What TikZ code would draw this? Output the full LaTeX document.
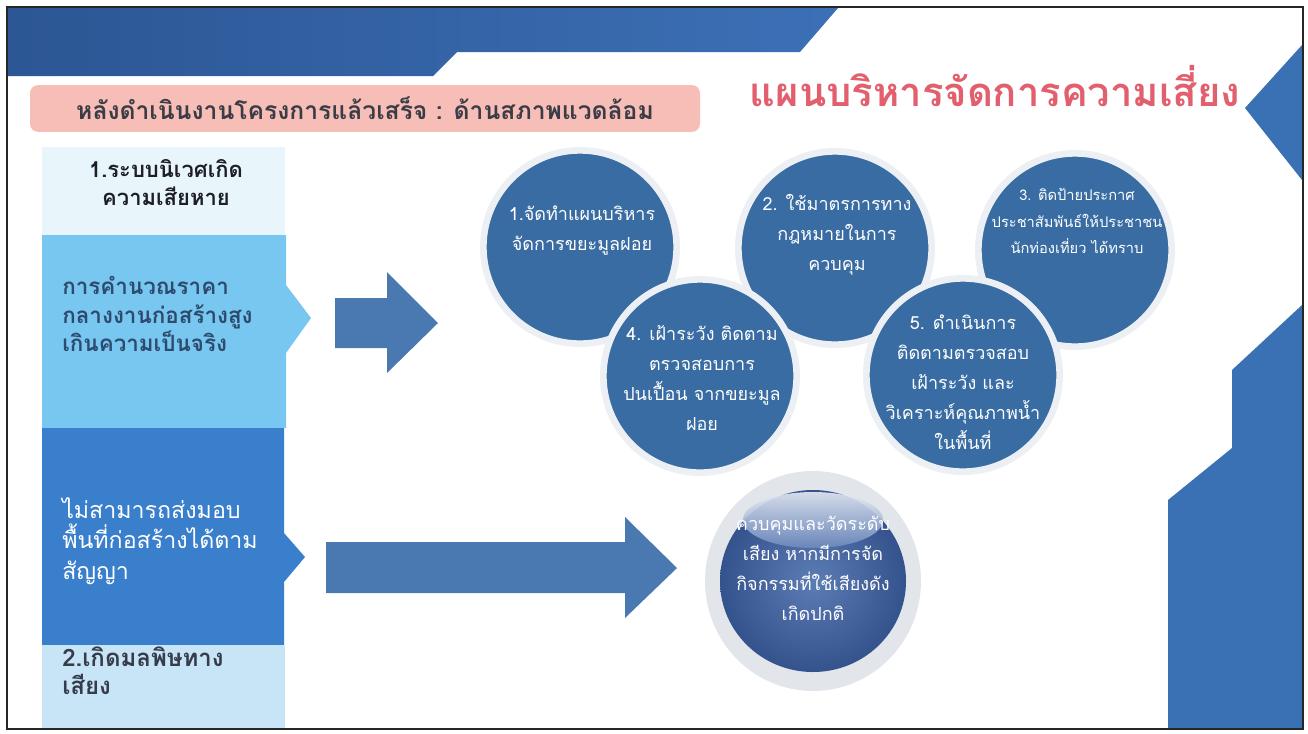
\documentclass[tikz,border=0pt]{standalone}
\usepackage{fontspec}
\newfontfamily\thai[Script=Thai]{Loma}
\usetikzlibrary{shapes.geometric}
\definecolor{bandL}{RGB}{44,86,148}
\definecolor{bandR}{RGB}{60,112,182}
\definecolor{rshape}{RGB}{58,112,180}
\definecolor{pinkbar}{RGB}{246,190,183}
\definecolor{hdrtext}{RGB}{60,60,70}
\definecolor{titlered}{RGB}{226,96,110}
\definecolor{cellA}{RGB}{232,246,252}
\definecolor{cellB}{RGB}{120,199,240}
\definecolor{cellC}{RGB}{58,127,204}
\definecolor{cellD}{RGB}{200,229,247}
\definecolor{txtA}{RGB}{30,30,40}
\definecolor{txtB}{RGB}{45,75,110}
\definecolor{txtD}{RGB}{55,60,75}
\definecolor{arrowblue}{RGB}{74,121,178}
\definecolor{circblue}{RGB}{56,108,162}
\definecolor{halo}{RGB}{236,240,244}
\definecolor{ballout}{RGB}{52,82,140}
\definecolor{ballin}{RGB}{92,124,180}
\definecolor{ring}{RGB}{226,230,235}
\begin{document}
\begin{tikzpicture}[x=0.75pt,y=-0.75pt,
  circ/.style={circle, fill=circblue, draw=halo, line width=5pt, minimum size=145pt, inner sep=0pt},
  ctext/.style={text=white, align=center, inner sep=0pt, font=\thai\fontsize{13.5}{22.5}\selectfont},
  ctextsmall/.style={ctext, font=\thai\fontsize{11}{20}\selectfont},
  celltext/.style={anchor=west, align=left, inner sep=0pt},
  blockarrow/.style={fill=arrowblue}
]
\useasboundingbox (0,0) rectangle (1308,733);
\fill[white] (0,0) rectangle (1308,733);

% top band
\shade[left color=bandL, right color=bandR] (8,8) -- (838,8) -- (800,52) -- (457,52) -- (433,76) -- (8,76) -- cycle;
% right side shapes
\fill[rshape] (1302,45) -- (1245,108) -- (1302,180) -- cycle;
\fill[rshape] (1302,305) -- (1232,370) -- (1232,448) -- (1168,500) -- (1168,729) -- (1302,729) -- cycle;

% header bar and title
\node[fill=pinkbar, rounded corners=6pt, minimum width=502.5pt, minimum height=35pt, inner sep=0pt,
      text=hdrtext, font=\thai\bfseries\fontsize{18.5}{20}\selectfont] (hdr) at (365,108.5)
      {หลังดำเนินงานโครงการแล้วเสร็จ : ด้านสภาพแวดล้อม};
\node[text=titlered, font=\thai\bfseries\fontsize{30}{32}\selectfont, inner sep=0pt] (title) at (995,86)
      {แผนบริหารจัดการความเสี่ยง};

% left column
\fill[cellA] (42,147) rectangle (285,235);
\fill[cellB] (42,235) -- (286,235) -- (286,285) -- (311,318) -- (286,353) -- (286,428) -- (42,428) -- cycle;
\fill[cellC] (42,428) -- (284,428) -- (284,533) -- (305,557) -- (284,582) -- (284,645) -- (42,645) -- cycle;
\fill[cellD] (42,645) rectangle (285,729);

\node[align=center, inner sep=0pt, text=txtA, font=\thai\bfseries\fontsize{16.5}{21}\selectfont] (t1) at (166,183)
      {1.ระบบนิเวศเกิด\\ความเสียหาย};
\node[celltext, text=txtB, font=\thai\bfseries\fontsize{16.8}{21.5}\selectfont] (t2) at (62,314)
      {การคำนวณราคา\\กลางงานก่อสร้างสูง\\เกินความเป็นจริง};
\node[celltext, text=white, font=\thai\fontsize{17.4}{23}\selectfont] (t3) at (62,541)
      {ไม่สามารถส่งมอบ\\พื้นที่ก่อสร้างได้ตาม\\สัญญา};
\node[celltext, text=txtD, font=\thai\bfseries\fontsize{18}{21}\selectfont] (t4) at (62,671)
      {2.เกิดมลพิษทาง\\เสียง};

% block arrows
\fill[blockarrow] (335,298) -- (387,298) -- (387,272) -- (438,323) -- (387,373) -- (387,348) -- (335,348) -- cycle;
\fill[blockarrow] (326,542) -- (625,542) -- (625,517) -- (677,568) -- (625,618) -- (625,593) -- (326,593) -- cycle;

% circles back row
\node[circ] (c1) at (580,247) {};
\node[circ] (c2) at (835,248) {};
\node[circ] (c3) at (1075,250) {};
\node[ctext] (c1t) at (582,231) {1.จัดทำแผนบริหาร\\จัดการขยะมูลฝอย};
\node[ctext] (c2t) at (837,235) {2. ใช้มาตรการทาง\\กฎหมายในการ\\ควบคุม};
\node[ctextsmall] (c3t) at (1077,221) {3. ติดป้ายประกาศ\\ประชาสัมพันธ์ให้ประชาชน\\นักท่องเที่ยว ได้ทราบ};
% circles front row
\node[circ] (c4) at (700,376) {};
\node[circ] (c5) at (963,375) {};
\node[ctext] (c4t) at (702,378) {4. เฝ้าระวัง ติดตาม\\ตรวจสอบการ\\ปนเปื้อน จากขยะมูล\\ฝอย};
\node[ctext] (c5t) at (963,382) {5. ดำเนินการ\\ติดตามตรวจสอบ\\เฝ้าระวัง และ\\วิเคราะห์คุณภาพน้ำ\\ในพื้นที่};

% glossy ball
\node[ellipse, fill=ring, minimum width=162pt, minimum height=165pt, inner sep=0pt] (ballring) at (813,581) {};
\shade[inner color=ballin, outer color=ballout] (813,581) ellipse [x radius=93, y radius=91];
\shade[top color=white!85!ballin, bottom color=ballin!90!white, opacity=0.9] (813,520) ellipse [x radius=70, y radius=28];
\node[ctext] (c6t) at (813,568) {ควบคุมและวัดระดับ\\เสียง หากมีการจัด\\กิจกรรมที่ใช้เสียงดัง\\เกิดปกติ};

% frame
\draw[line width=1.5pt, black!85] (7,7) rectangle (1303,729);
\end{tikzpicture}
\end{document}
